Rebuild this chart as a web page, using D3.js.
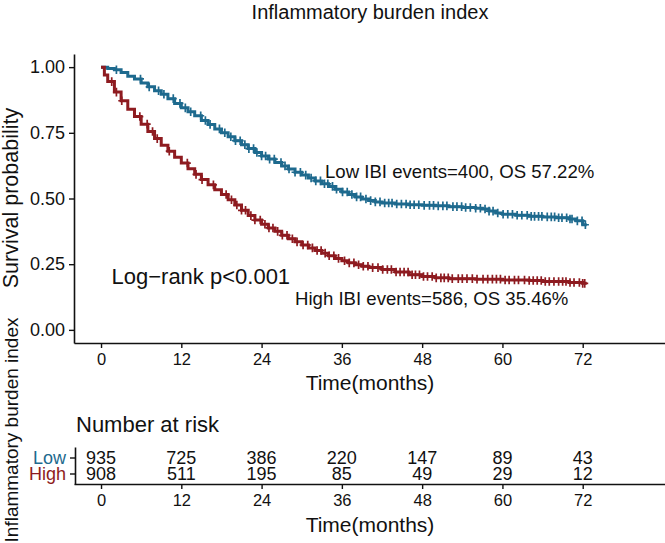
<!DOCTYPE html>
<html>
<head>
<meta charset="utf-8">
<script src="https://cdn.jsdelivr.net/npm/d3@7"></script>
<style>
  html, body { margin: 0; padding: 0; background: #fff; }
  svg { display: block; font-family: "Liberation Sans", Arial, sans-serif; }
</style>
</head>
<body>
<svg id="chart" width="665" height="543"></svg>
<script>
// ---------------- data ----------------
const groups = ["Low", "High"];
const timeTicks = [0, 12, 24, 36, 48, 60, 72];
const survTicks = [0, 0.25, 0.5, 0.75, 1];

const lowTimes = [0,1,2,3,4,5,6,7,8,9,10,11,12,13,14,15,16,17,18,19,20,21,22,23,24,25,26,27,28,29,30,31,32,33,34,35,36,37,38,39,40,41,42,44,46,48,50,52,54,56,57,58,59,60,62,64,66,68,70,71,72,72.6];
const lowSurv  = [1,0.995,0.99,0.98,0.965,0.955,0.94,0.925,0.91,0.897,0.88,0.862,0.845,0.83,0.815,0.797,0.782,0.765,0.75,0.735,0.72,0.705,0.69,0.675,0.662,0.65,0.637,0.624,0.612,0.6,0.589,0.578,0.567,0.556,0.546,0.535,0.525,0.515,0.506,0.498,0.492,0.487,0.483,0.479,0.476,0.474,0.472,0.469,0.466,0.463,0.46,0.452,0.445,0.44,0.436,0.432,0.43,0.427,0.422,0.415,0.40,0.40];

const highTimes = [0,0.5,1,2,3,4,5,6,7,8,9,10,11,12,13,14,15,16,17,18,19,20,21,22,23,24,25,26,27,28,29,30,31,32,33,34,35,36,37,38,39,40,42,44,46,48,50,52,56,60,64,66,70,72,72.6];
const highSurv  = [1,0.97,0.945,0.905,0.872,0.84,0.812,0.783,0.755,0.728,0.703,0.68,0.657,0.635,0.613,0.592,0.572,0.552,0.533,0.515,0.495,0.475,0.455,0.435,0.418,0.402,0.388,0.375,0.36,0.347,0.335,0.323,0.312,0.302,0.292,0.282,0.272,0.263,0.255,0.248,0.242,0.237,0.23,0.22,0.21,0.203,0.198,0.195,0.193,0.19,0.188,0.184,0.18,0.177,0.177];

const lowCensor  = [2.3,5.9,7.2,8.6,9.4,10.8,11.8,12.6,13.4,14.9,15.6,16.3,17.7,18.5,19.4,20.1,20.8,21.5,22.1,22.8,23.3,24.0,24.6,25.2,25.9,26.9,27.5,28.1,29.0,29.8,30.6,31.4,32.1,32.8,33.4,33.9,34.6,35.2,36.1,36.8,37.5,38.2,38.8,39.6,40.3,41.0,41.7,42.4,43.0,43.5,44.2,44.9,45.6,46.2,46.8,47.5,48.3,49.1,49.7,50.4,51.1,51.7,52.6,53.2,53.9,54.5,55.2,56.0,56.7,57.4,58.0,58.6,59.3,60.1,60.8,61.5,62.2,62.9,63.7,64.3,64.8,65.4,65.9,66.7,67.3,67.8,68.4,68.9,69.6,70.1,70.4,71.2,71.9,72.4];
const highCensor = [1.6,2.3,3.1,5.8,6.9,7.7,8.4,10.2,12.9,14.2,15.1,16.8,18.7,19.5,20.3,21.0,21.6,22.4,23.0,23.8,24.5,25.1,25.7,26.4,27.1,27.8,28.6,29.3,30.2,30.9,31.6,32.3,32.9,33.5,34.1,34.8,35.5,36.4,37.1,37.8,38.5,39.2,39.9,40.6,41.4,42.1,42.8,43.4,44.1,44.7,45.3,45.9,46.5,47.0,47.6,48.2,48.8,49.5,50.1,50.8,51.3,51.9,52.5,53.4,54.0,54.7,55.5,56.2,57.1,57.8,58.5,59.1,59.7,60.4,61.0,61.8,62.4,63.3,64.0,64.6,65.2,65.8,66.4,67.0,67.7,68.4,69.0,69.5,70.1,70.7,71.5,72.0,72.3];

const riskLow  = [935, 725, 386, 220, 147, 89, 43];
const riskHigh = [908, 511, 195, 85, 49, 29, 12];

const colors = { Low: "#1E6A8E", High: "#8E1B20" };

// ---------------- drawing ----------------
const svg = d3.select("#chart");
const font = "'Liberation Sans', Arial, sans-serif";

const x = d3.scaleLinear().domain([-4.04, 84.3]).range([74, 665]);
const y = d3.scaleLinear().domain([-0.05, 1.05]).range([343, 54]);

// title
svg.append("text").attr("x", 370).attr("y", 18.5).attr("text-anchor", "middle")
  .attr("font-size", 20).attr("fill", "#111").text("Inflammatory burden index");

// axes
const xAxis = svg.append("g").attr("transform", "translate(0,343)")
  .call(d3.axisBottom(x).tickValues(timeTicks).tickSize(5).tickPadding(5).tickSizeOuter(0));
const yAxis = svg.append("g").attr("transform", "translate(74,0)")
  .call(d3.axisLeft(y).tickValues(survTicks).tickFormat(d3.format(".2f")).tickSize(5).tickPadding(4).tickSizeOuter(0));
[xAxis, yAxis].forEach(g => {
  g.selectAll("path.domain").attr("stroke", "#111").attr("stroke-width", 1.6);
  g.selectAll(".tick line").attr("stroke", "#111").attr("stroke-width", 1.4);
  g.selectAll(".tick text").attr("fill", "#111").attr("font-family", font);
});
xAxis.selectAll(".tick text").attr("font-size", 16.5);
yAxis.selectAll(".tick text").attr("font-size", 18);

svg.append("text").attr("transform", "translate(18,198) rotate(-90)").attr("text-anchor", "middle")
  .attr("font-size", 21.5).attr("fill", "#111").text("Survival probability");
svg.append("text").attr("x", 370).attr("y", 390).attr("text-anchor", "middle")
  .attr("font-size", 21).attr("fill", "#111").text("Time(months)");

// curves
const line = d3.line().x(d => x(d[0])).y(d => y(d[1])).curve(d3.curveStepAfter);
const series = {
  Low:  { t: lowTimes,  s: lowSurv,  c: lowCensor },
  High: { t: highTimes, s: highSurv, c: highCensor }
};
function survAt(ser, t) {
  const i = d3.bisectRight(ser.t, t) - 1;
  return ser.s[Math.max(0, i)];
}
groups.forEach(g => {
  const ser = series[g];
  const pts = ser.t.map((t, i) => [t, ser.s[i]]);
  svg.append("path").datum(pts).attr("d", line).attr("fill", "none")
    .attr("stroke", colors[g]).attr("stroke-width", 3).attr("stroke-linejoin", "miter");
  svg.append("g").selectAll("path").data(ser.c).join("path")
    .attr("transform", t => `translate(${x(t)},${y(survAt(ser, t))})`)
    .attr("d", "M-3.5,0H3.5M0,-4.3V4.3")
    .attr("stroke", colors[g]).attr("stroke-width", 1.7).attr("fill", "none");
});

// annotations
svg.append("text").attr("x", 325).attr("y", 177.5).attr("font-size", 18.6).attr("fill", "#111")
  .text("Low IBI events=400, OS 57.22%");
svg.append("text").attr("x", 295).attr("y", 305).attr("font-size", 18.6).attr("fill", "#111")
  .text("High IBI events=586, OS 35.46%");
svg.append("text").attr("x", 111.5).attr("y", 284).attr("font-size", 22).attr("fill", "#111")
  .text("Log\u2212rank p<0.001");

// ---------------- risk table ----------------
svg.append("text").attr("x", 76).attr("y", 432).attr("font-size", 22).attr("fill", "#111")
  .text("Number at risk");

const yr = d3.scalePoint().domain(groups).range([447, 484]).padding(0.656);
const rx = svg.append("g").attr("transform", "translate(0,484)")
  .call(d3.axisBottom(x).tickValues(timeTicks).tickSize(5).tickPadding(5).tickSizeOuter(0));
const ry = svg.append("g").attr("transform", "translate(75,0)")
  .call(d3.axisLeft(yr).tickSize(5).tickPadding(4).tickSizeOuter(0));
[rx, ry].forEach(g => {
  g.selectAll("path.domain").attr("stroke", "#111").attr("stroke-width", 1.6);
  g.selectAll(".tick line").attr("stroke", "#111").attr("stroke-width", 1.4);
  g.selectAll(".tick text").attr("font-size", 16.5).attr("fill", "#111").attr("font-family", font);
});
ry.selectAll(".tick text").attr("fill", d => colors[d]).attr("font-size", 18).attr("dy", "0.36em");

const riskData = { Low: riskLow, High: riskHigh };
groups.forEach(g => {
  svg.append("g").selectAll("text").data(riskData[g]).join("text")
    .attr("x", (d, i) => x(timeTicks[i])).attr("y", yr(g)).attr("dy", "0.36em")
    .attr("text-anchor", "middle").attr("font-size", 18).attr("fill", "#111")
    .text(d => d);
});

svg.append("text").attr("x", 370).attr("y", 531.5).attr("text-anchor", "middle")
  .attr("font-size", 21).attr("fill", "#111").text("Time(months)");
svg.append("text").attr("transform", "translate(18,430) rotate(-90)").attr("text-anchor", "middle")
  .attr("font-size", 19).attr("fill", "#111").text("Inflammatory burden index");
</script>
</body>
</html>
